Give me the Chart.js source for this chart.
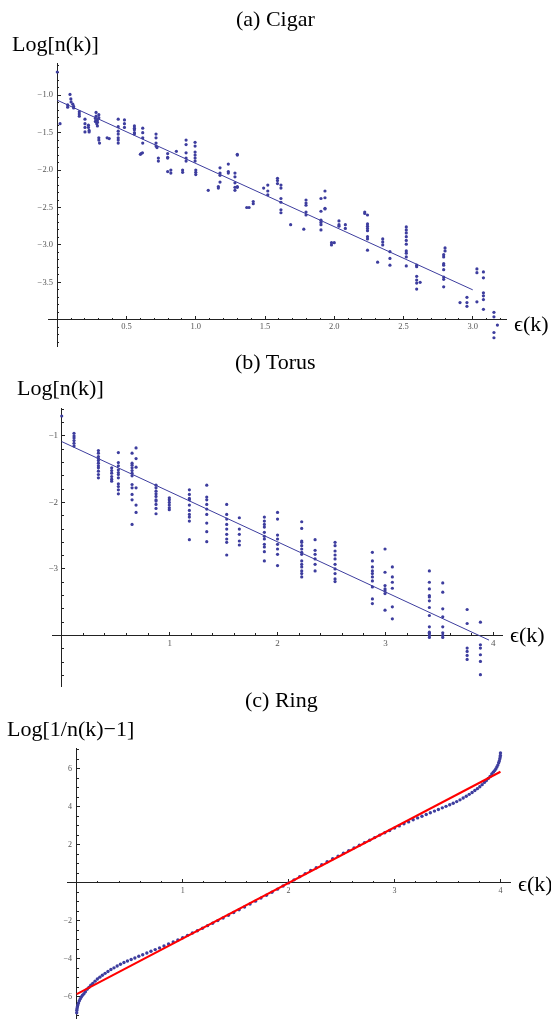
<!DOCTYPE html>
<html><head><meta charset="utf-8">
<script src="https://cdn.jsdelivr.net/npm/chart.js@4.4.0/dist/chart.umd.min.js"></script>
<style>
html,body{margin:0;padding:0;background:#fff;overflow:hidden;width:551px;height:1019px;}
canvas{position:absolute;left:0;}
.t{position:absolute;font-family:"Liberation Serif","Times New Roman",serif;font-size:22px;line-height:22px;color:#000;white-space:nowrap;}
</style></head><body>
<canvas id="ca" width="551" height="370" style="top:0px"></canvas>
<canvas id="cb" width="551" height="350" style="top:360px"></canvas>
<canvas id="cc" width="551" height="340" style="top:700px"></canvas>
<div class="t" style="left:236px;top:8px">(a) Cigar</div>
<div class="t" style="left:12px;top:33px">Log[n(k)]</div>
<div class="t" style="left:514px;top:313px">ϵ(k)</div>
<div class="t" style="left:235px;top:351px">(b) Torus</div>
<div class="t" style="left:17px;top:377px">Log[n(k)]</div>
<div class="t" style="left:510px;top:624px">ϵ(k)</div>
<div class="t" style="left:245px;top:689px">(c) Ring</div>
<div class="t" style="left:7px;top:718px">Log[1/n(k)−1]</div>
<div class="t" style="left:518px;top:873px">ϵ(k)</div>
<script>
// ---------- (a) Cigar ----------
const cigarPoints = [
[0.000,-0.69],[0.020,-1.38],[0.092,-0.99],
[0.075,-1.13],[0.075,-1.16],[0.098,-1.05],[0.100,-1.09],[0.112,-1.12],[0.118,-1.15],[0.118,-1.17],
[0.159,-1.22],[0.159,-1.25],[0.159,-1.28],
[0.200,-1.32],[0.200,-1.38],[0.200,-1.43],[0.200,-1.49],
[0.225,-1.40],[0.225,-1.43],[0.230,-1.47],[0.230,-1.49],
[0.275,-1.31],[0.275,-1.35],[0.280,-1.23],[0.280,-1.28],[0.285,-1.38],[0.290,-1.33],[0.290,-1.36],[0.290,-1.41],[0.300,-1.26],[0.300,-1.30],
[0.300,-1.57],[0.300,-1.60],[0.305,-1.64],
[0.360,-1.57],[0.375,-1.58],
[0.440,-1.32],[0.440,-1.42],[0.440,-1.48],[0.440,-1.52],[0.440,-1.57],[0.440,-1.60],[0.440,-1.64],
[0.485,-1.33],[0.485,-1.38],[0.485,-1.43],
[0.557,-1.41],[0.557,-1.44],[0.557,-1.46],[0.557,-1.50],[0.557,-1.52],
[0.617,-1.44],[0.617,-1.50],[0.617,-1.57],[0.617,-1.64],
[0.600,-1.79],[0.605,-1.78],[0.615,-1.77],
[0.713,-1.52],[0.713,-1.57],[0.713,-1.64],[0.713,-1.68],[0.720,-1.70],
[0.730,-1.84],[0.730,-1.88],
[0.797,-1.78],[0.797,-1.83],[0.797,-1.84],
[0.860,-1.75],
[0.930,-1.60],[0.930,-1.66],[0.930,-1.77],[0.930,-1.84],[0.930,-1.88],
[0.995,-1.63],[0.995,-1.68],[0.995,-1.76],[0.995,-1.80],[0.995,-1.84],[0.995,-1.88],
[1.175,-1.97],[1.235,-1.92],[1.300,-1.80],[1.300,-1.79],
[0.797,-2.02],[0.820,-2.00],[0.820,-2.04],
[0.905,-2.00],[0.905,-2.03],
[1.000,-2.00],[1.000,-2.03],[1.000,-2.06],
[1.090,-2.27],
[1.163,-2.22],[1.163,-2.24],
[1.175,-2.04],[1.175,-2.07],[1.175,-2.16],
[1.235,-2.02],[1.235,-2.04],
[1.283,-2.04],[1.283,-2.09],[1.283,-2.17],[1.283,-2.23],[1.283,-2.27],
[1.300,-2.22],[1.300,-2.23],
[1.368,-2.50],[1.385,-2.50],
[1.415,-2.42],[1.415,-2.45],
[1.490,-2.24],
[1.520,-2.20],[1.520,-2.28],[1.520,-2.33],
[1.590,-2.11],[1.590,-2.14],[1.590,-2.18],
[1.615,-2.20],[1.615,-2.24],[1.615,-2.38],[1.615,-2.43],[1.615,-2.53],[1.615,-2.57],
[1.685,-2.73],[1.780,-2.79],
[1.796,-2.40],[1.796,-2.44],[1.796,-2.47],[1.796,-2.56],[1.796,-2.60],
[1.904,-2.38],[1.904,-2.55],[1.904,-2.67],[1.904,-2.70],[1.904,-2.73],[1.904,-2.80],
[1.933,-2.28],[1.933,-2.37],[1.933,-2.51],[1.933,-2.52],
[1.980,-2.97],[1.980,-3.00],[2.000,-2.97],
[2.034,-2.68],[2.034,-2.73],[2.034,-2.75],
[2.080,-2.73],[2.080,-2.78],
[2.220,-2.56],[2.220,-2.58],[2.240,-2.60],[2.240,-2.72],[2.240,-2.75],[2.240,-2.78],[2.240,-2.81],[2.240,-2.89],[2.240,-2.92],[2.240,-3.07],
[2.313,-3.23],
[2.350,-2.92],[2.350,-2.96],[2.350,-3.00],
[2.402,-3.09],[2.402,-3.18],[2.402,-3.27],
[2.520,-2.76],[2.520,-2.80],[2.520,-2.84],[2.520,-2.89],[2.520,-2.94],[2.520,-2.99],[2.520,-3.08],[2.520,-3.11],[2.520,-3.16],[2.520,-3.28],
[2.595,-3.27],[2.595,-3.29],[2.595,-3.42],[2.595,-3.47],[2.595,-3.51],[2.595,-3.59],[2.620,-3.50],
[2.800,-3.04],[2.800,-3.08],[2.790,-3.13],[2.790,-3.16],[2.790,-3.25],[2.790,-3.27],[2.790,-3.33],[2.790,-3.43],[2.790,-3.46],[2.790,-3.56],
[2.908,-3.77],
[2.958,-3.70],[2.958,-3.77],[2.958,-3.82],
[3.030,-3.32],[3.030,-3.37],[3.030,-3.76],
[3.077,-3.36],[3.077,-3.44],[3.077,-3.64],[3.077,-3.68],[3.077,-3.73],[3.077,-3.86],
[3.153,-3.90],[3.153,-3.96],[3.153,-4.17],[3.153,-4.24],
[3.178,-4.07]
];
const cigarFit = [[0,-1.067],[3.0,-3.60]];
const cigarXMajor = [0.5,1.0,1.5,2.0,2.5,3.0];
const cigarXLabels = ['0.5','1.0','1.5','2.0','2.5','3.0'];
const cigarXMinor = [0.1,0.2,0.3,0.4,0.6,0.7,0.8,0.9,1.1,1.2,1.3,1.4,1.6,1.7,1.8,1.9,2.1,2.2,2.3,2.4,2.6,2.7,2.8,2.9,3.1,3.2];
const cigarYMajor = [-1.0,-1.5,-2.0,-2.5,-3.0,-3.5];
const cigarYLabels = ['\u22121.0','\u22121.5','\u22122.0','\u22122.5','\u22123.0','\u22123.5'];
const cigarYMinor = [-0.6,-0.7,-0.8,-0.9,-1.1,-1.2,-1.3,-1.4,-1.6,-1.7,-1.8,-1.9,-2.1,-2.2,-2.3,-2.4,-2.6,-2.7,-2.8,-2.9,-3.1,-3.2,-3.3,-3.4,-3.6,-3.7,-3.8,-3.9,-4.1,-4.2,-4.3];

// ---------- (b) Torus ----------
const torusPoints = [
[0.000,-0.70],
[0.114,-0.96],[0.114,-1.00],[0.114,-1.03],[0.114,-1.07],[0.114,-1.11],[0.114,-1.15],
[0.340,-1.22],[0.340,-1.26],[0.340,-1.31],[0.340,-1.34],[0.340,-1.37],[0.340,-1.41],[0.340,-1.45],[0.340,-1.48],[0.340,-1.53],[0.340,-1.58],[0.340,-1.63],
[0.463,-1.48],[0.463,-1.52],[0.463,-1.56],[0.463,-1.61],[0.463,-1.65],[0.463,-1.68],
[0.525,-1.25],[0.525,-1.40],[0.525,-1.45],[0.525,-1.51],[0.525,-1.55],[0.525,-1.58],[0.525,-1.63],[0.525,-1.72],[0.525,-1.76],[0.525,-1.81],[0.525,-1.87],
[0.652,-1.26],[0.652,-1.41],[0.652,-1.44],[0.652,-1.48],[0.652,-1.52],[0.652,-1.56],[0.652,-1.60],[0.652,-1.73],[0.652,-1.78],[0.652,-1.88],[0.652,-1.96],[0.652,-2.33],
[0.689,-1.18],[0.689,-1.34],[0.689,-1.47],[0.689,-1.78],[0.689,-2.04],[0.689,-2.15],
[0.874,-1.74],[0.874,-1.78],[0.874,-1.83],[0.874,-1.87],[0.874,-1.91],[0.874,-1.96],[0.874,-1.98],[0.874,-2.03],[0.874,-2.09],[0.874,-2.17],
[0.997,-1.93],[0.997,-1.96],[0.997,-2.00],[0.997,-2.04],[0.997,-2.08],[0.997,-2.11],
[1.183,-1.81],[1.183,-1.88],[1.183,-1.94],[1.183,-1.96],[1.183,-2.04],[1.183,-2.12],[1.183,-2.18],[1.183,-2.22],[1.183,-2.28],[1.183,-2.56],
[1.344,-1.74],[1.344,-1.92],[1.344,-1.96],[1.344,-2.03],[1.344,-2.10],[1.344,-2.18],[1.344,-2.31],[1.344,-2.44],[1.344,-2.59],
[1.529,-2.03],[1.529,-2.18],[1.529,-2.25],[1.529,-2.33],[1.529,-2.40],[1.529,-2.48],[1.529,-2.55],[1.529,-2.60],[1.529,-2.79],
[1.646,-2.23],[1.646,-2.40],[1.646,-2.48],[1.646,-2.58],[1.646,-2.64],
[1.878,-2.22],[1.878,-2.28],[1.878,-2.33],[1.878,-2.37],[1.878,-2.45],[1.878,-2.51],[1.878,-2.55],[1.878,-2.63],[1.878,-2.67],[1.878,-2.74],[1.878,-2.88],
[2.000,-2.15],[2.000,-2.25],[2.000,-2.49],[2.000,-2.55],[2.000,-2.63],[2.000,-2.70],[2.000,-2.78],[2.000,-2.95],
[2.224,-2.29],[2.224,-2.39],[2.224,-2.58],[2.224,-2.60],[2.224,-2.65],[2.224,-2.70],[2.224,-2.75],[2.224,-2.78],[2.224,-2.88],[2.224,-2.93],[2.224,-2.97],[2.224,-3.03],[2.224,-3.07],[2.224,-3.12],
[2.348,-2.56],[2.348,-2.72],[2.348,-2.78],[2.348,-2.85],[2.348,-2.93],[2.348,-3.03],
[2.533,-2.60],[2.533,-2.65],[2.533,-2.73],[2.533,-2.79],[2.533,-2.85],[2.533,-2.93],[2.533,-3.00],[2.533,-3.07],[2.533,-3.15],[2.533,-3.19],
[2.879,-2.75],[2.879,-2.88],[2.879,-2.97],[2.879,-3.03],[2.879,-3.07],[2.879,-3.12],[2.879,-3.18],[2.879,-3.27],[2.879,-3.45],[2.879,-3.52],
[2.996,-2.70],[2.996,-3.05],[2.996,-3.25],[2.996,-3.30],[2.996,-3.33],[2.996,-3.37],[2.996,-3.62],
[3.064,-2.97],[3.064,-3.12],[3.064,-3.20],[3.064,-3.29],[3.064,-3.57],[3.064,-3.75],
[3.407,-3.03],[3.407,-3.20],[3.407,-3.30],[3.407,-3.40],[3.407,-3.42],[3.407,-3.48],[3.407,-3.58],[3.407,-3.70],[3.407,-3.87],[3.407,-3.95],[3.407,-3.97],[3.407,-4.00],[3.407,-4.03],
[3.531,-3.21],[3.531,-3.35],[3.531,-3.60],[3.531,-3.72],[3.531,-3.87],[3.531,-3.96],[3.531,-4.00],[3.531,-4.03],
[3.757,-3.61],[3.757,-3.82],[3.757,-4.19],[3.757,-4.24],[3.757,-4.30],[3.757,-4.36],
[3.880,-3.80],[3.880,-4.14],[3.880,-4.19],[3.880,-4.29],[3.880,-4.39],[3.880,-4.59]
];
const torusFit = [[0,-1.085],[3.96,-4.07]];
const torusXMajor = [1,2,3,4];
const torusXLabels = ['1','2','3','4'];
const torusXMinor = [0.2,0.4,0.6,0.8,1.2,1.4,1.6,1.8,2.2,2.4,2.6,2.8,3.2,3.4,3.6,3.8];
const torusYMajor = [-1,-2,-3];
const torusYLabels = ['\u22121','\u22122','\u22123'];
const torusYMinor = [-0.6,-0.8,-1.2,-1.4,-1.6,-1.8,-2.2,-2.4,-2.6,-2.8,-3.2,-3.4,-3.6,-3.8,-4.2,-4.4,-4.6];

// ---------- (c) Ring ----------
const ringPoints = [
[0.000,-6.84],[0.001,-6.71],[0.003,-6.62],[0.006,-6.53],[0.011,-6.42],[0.017,-6.32],[0.025,-6.20],[0.034,-6.10],[0.044,-6.00],[0.055,-5.91],
[0.068,-5.83],[0.082,-5.73],[0.098,-5.60],[0.115,-5.50],[0.133,-5.39],[0.152,-5.29],[0.173,-5.17],[0.195,-5.06],[0.218,-4.96],[0.242,-4.86],
[0.268,-4.76],[0.295,-4.66],[0.323,-4.56],[0.352,-4.47],[0.382,-4.37],[0.413,-4.28],[0.446,-4.19],[0.479,-4.11],[0.514,-4.03],[0.549,-3.95],
[0.586,-3.86],[0.623,-3.78],[0.662,-3.69],[0.701,-3.60],[0.741,-3.51],[0.782,-3.42],[0.824,-3.32],[0.867,-3.21],[0.911,-3.11],[0.955,-3.00],
[1.000,-2.885],[1.046,-2.76],[1.092,-2.64],[1.139,-2.515],[1.187,-2.385],[1.235,-2.25],[1.283,-2.12],[1.332,-1.985],[1.382,-1.845],[1.432,-1.70],
[1.482,-1.56],[1.533,-1.41],[1.584,-1.27],[1.636,-1.11],[1.687,-0.96],[1.739,-0.80],[1.791,-0.65],[1.843,-0.49],[1.895,-0.33],[1.948,-0.16],
[2.000,0.00],
[2.052,0.16],[2.105,0.33],[2.157,0.49],[2.209,0.65],[2.261,0.80],[2.313,0.96],[2.364,1.11],[2.416,1.27],[2.467,1.41],[2.518,1.56],
[2.568,1.70],[2.618,1.845],[2.668,1.985],[2.717,2.12],[2.765,2.25],[2.813,2.385],[2.861,2.515],[2.908,2.64],[2.954,2.76],[3.000,2.885],
[3.045,3.00],[3.089,3.11],[3.133,3.21],[3.176,3.32],[3.218,3.42],[3.259,3.51],[3.299,3.60],[3.338,3.69],[3.377,3.78],[3.414,3.86],
[3.451,3.95],[3.486,4.03],[3.521,4.11],[3.554,4.19],[3.587,4.28],[3.618,4.37],[3.648,4.47],[3.677,4.56],[3.705,4.66],[3.732,4.76],
[3.758,4.86],[3.782,4.96],[3.805,5.06],[3.827,5.17],[3.848,5.29],[3.867,5.39],[3.885,5.50],[3.902,5.60],[3.918,5.73],[3.932,5.83],
[3.945,5.91],[3.956,6.00],[3.966,6.10],[3.975,6.20],[3.983,6.32],[3.989,6.42],[3.994,6.53],[3.997,6.62],[3.999,6.71],[4.000,6.84]
];
const ringFit = [[0,-5.85],[4,5.85]];
const ringXMajor = [1,2,3,4];
const ringXLabels = ['1','2','3','4'];
const ringXMinor = [0.2,0.4,0.6,0.8,1.2,1.4,1.6,1.8,2.2,2.4,2.6,2.8,3.2,3.4,3.6,3.8];
const ringYMajor = [-6,-4,-2,2,4,6];
const ringYLabels = ['\u22126','\u22124','\u22122','2','4','6'];
const ringYMinor = [-7,-6.5,-5.5,-5,-4.5,-3.5,-3,-2.5,-1.5,-1,-0.5,0.5,1,1.5,2.5,3,3.5,4.5,5,5.5,6.5,7];

// ---------- rendering ----------
const SERIF = '"Liberation Serif","Times New Roman",serif';
const AXIS = '#222';
const LABEL = '#555';
const DOT = '#3d3d9e';

function zeroFit(s){
  if (s.isHorizontal()) s.height = 0; else s.width = 0;
  s.paddingLeft = 0; s.paddingRight = 0; s.paddingTop = 0; s.paddingBottom = 0;
}
function setTicks(list){ return s => { s.ticks = list.map(v => ({value: v})); }; }
function pts(list){ return list.map(p => ({x: p[0], y: p[1]})); }

function buildScales(p){
  const gridMajor = {drawOnChartArea:false, drawTicks:true, tickLength:-4, tickColor:AXIS, tickWidth:1};
  const gridMinor = {drawOnChartArea:false, drawTicks:true, tickLength:-2, tickColor:AXIS, tickWidth:1};
  return {
    x: {type:'linear', min:p.xMin, max:p.xMax, position:{y:p.xCross}, afterFit:zeroFit,
        afterBuildTicks:setTicks(p.xMajor),
        border:{display:true, color:AXIS, width:1}, grid:gridMajor,
        ticks:{autoSkip:false, maxRotation:0, padding:p.xPad, color:LABEL,
               font:{family:SERIF, size:p.font}, callback:(v,i)=>p.xLabels[i]}},
    xm: {type:'linear', axis:'x', min:p.xMin, max:p.xMax, position:{y:p.xCross}, afterFit:zeroFit,
        afterBuildTicks:setTicks(p.xMinor),
        border:{display:false}, grid:gridMinor, ticks:{display:false, autoSkip:false}},
    y: {type:'linear', min:p.yMin, max:p.yMax, position:{x:0}, afterFit:zeroFit,
        afterBuildTicks:setTicks(p.yMajor),
        border:{display:true, color:AXIS, width:1}, grid:gridMajor,
        ticks:{autoSkip:false, padding:4, color:LABEL,
               font:{family:SERIF, size:p.font}, callback:(v,i)=>p.yLabels[i] + p.gap}},
    ym: {type:'linear', axis:'y', min:p.yMin, max:p.yMax, position:{x:0}, afterFit:zeroFit,
        afterBuildTicks:setTicks(p.yMinor),
        border:{display:false}, grid:gridMinor, ticks:{display:false, autoSkip:false}}
  };
}

function makeChart(id, p, datasets){
  new Chart(document.getElementById(id), {
    type:'scatter',
    data:{datasets},
    options:{
      responsive:false, animation:false, events:[],
      layout:{padding:p.pad},
      plugins:{legend:{display:false}, tooltip:{enabled:false}, title:{display:false}},
      scales:buildScales(p)
    }
  });
}

makeChart('ca', {
  pad:{left:48, right:45, top:63, bottom:24},
  xMin:-0.067, xMax:3.24, yMin:-4.35, yMax:-0.57, xCross:-4.0,
  xMajor:cigarXMajor, xLabels:cigarXLabels, xMinor:cigarXMinor,
  yMajor:cigarYMajor, yLabels:cigarYLabels, yMinor:cigarYMinor,
  font:8.5, xPad:5.6, gap:'\u2002'
}, [
  {data:pts(cigarFit), showLine:true, borderColor:DOT, borderWidth:1, pointRadius:0, fill:false},
  {data:pts(cigarPoints), backgroundColor:DOT, borderWidth:0, pointRadius:1.6}
]);

makeChart('cb', {
  pad:{left:52, right:49, top:48, bottom:24},
  xMin:-0.09, xMax:4.08, yMin:-4.76, yMax:-0.58, xCross:-4,
  xMajor:torusXMajor, xLabels:torusXLabels, xMinor:torusXMinor,
  yMajor:torusYMajor, yLabels:torusYLabels, yMinor:torusYMinor,
  font:9, xPad:6.6, gap:'\u2009\u2009'
}, [
  {data:pts(torusFit), showLine:true, borderColor:DOT, borderWidth:1, pointRadius:0, fill:false},
  {data:pts(torusPoints), backgroundColor:DOT, borderWidth:0, pointRadius:1.6}
]);

makeChart('cc', {
  pad:{left:67.7, right:41, top:48, bottom:20.3},
  xMin:-0.085, xMax:4.09, yMin:-7.2, yMax:7.1, xCross:0,
  xMajor:ringXMajor, xLabels:ringXLabels, xMinor:ringXMinor,
  yMajor:ringYMajor, yLabels:ringYLabels, yMinor:ringYMinor,
  font:8, xPad:6.9, gap:'\u2002\u200A'
}, [
  {data:pts(ringFit), showLine:true, borderColor:'#ff0000', borderWidth:2, pointRadius:0, fill:false},
  {data:pts(ringPoints), backgroundColor:DOT, borderWidth:0, pointRadius:1.7}
]);
</script>
</body></html>
